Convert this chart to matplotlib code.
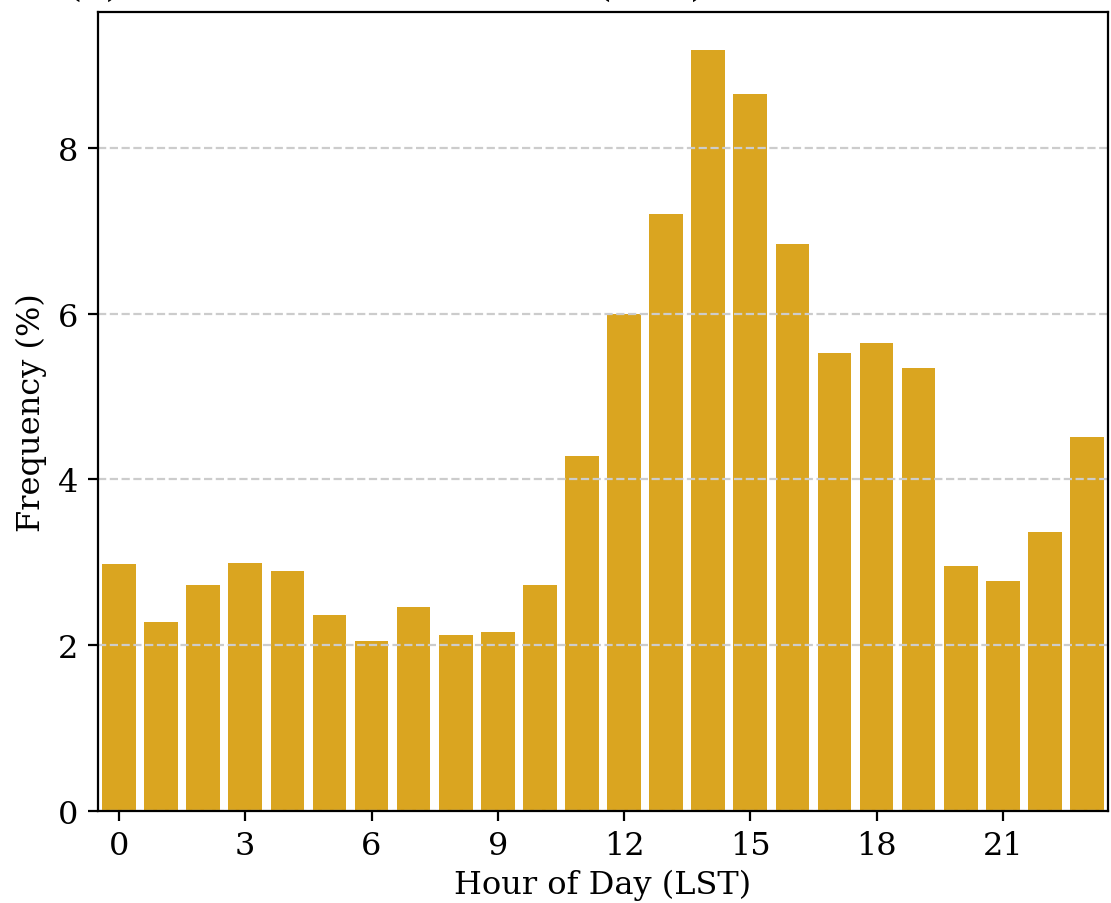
import matplotlib
matplotlib.use("Agg")
import matplotlib.pyplot as plt
import numpy as np

# Data: frequency (%) per hour of day
hours = np.arange(24)
freq = [2.98, 2.28, 2.73, 2.99, 2.89, 2.37, 2.05, 2.46, 2.12, 2.16, 2.73, 4.28,
        5.99, 7.20, 9.18, 8.65, 6.84, 5.52, 5.65, 5.35, 2.95, 2.78, 3.36, 4.51]
xticks = [0, 3, 6, 9, 12, 15, 18, 21]
yticks = [0, 2, 4, 6, 8]

plt.rcParams['font.family'] = 'DejaVu Serif'
plt.rcParams['font.size'] = 11.5

fig = plt.figure(figsize=(5.555, 4.52), dpi=200)
ax = fig.add_axes([98 / 1111, 92 / 904, 1010 / 1111, 799 / 904])

ax.bar(hours, freq, width=0.8, color='#DAA520')

ax.set_xlim(-0.5, 23.5)
ax.set_ylim(0, max(freq) * 1.05)
ax.set_xticks(xticks)
ax.set_yticks(yticks)
ax.set_xlabel('Hour of Day (LST)', labelpad=2.5)
ax.set_ylabel('Frequency (%)')
ax.set_title('(a) Diurnal Initiation Time (LST) of Convective Storms', fontsize=14, pad=5.9)
ax.grid(True, axis='y', linestyle='--', color='#cccccc', linewidth=0.8)

fig.savefig('out.png', dpi=200)
